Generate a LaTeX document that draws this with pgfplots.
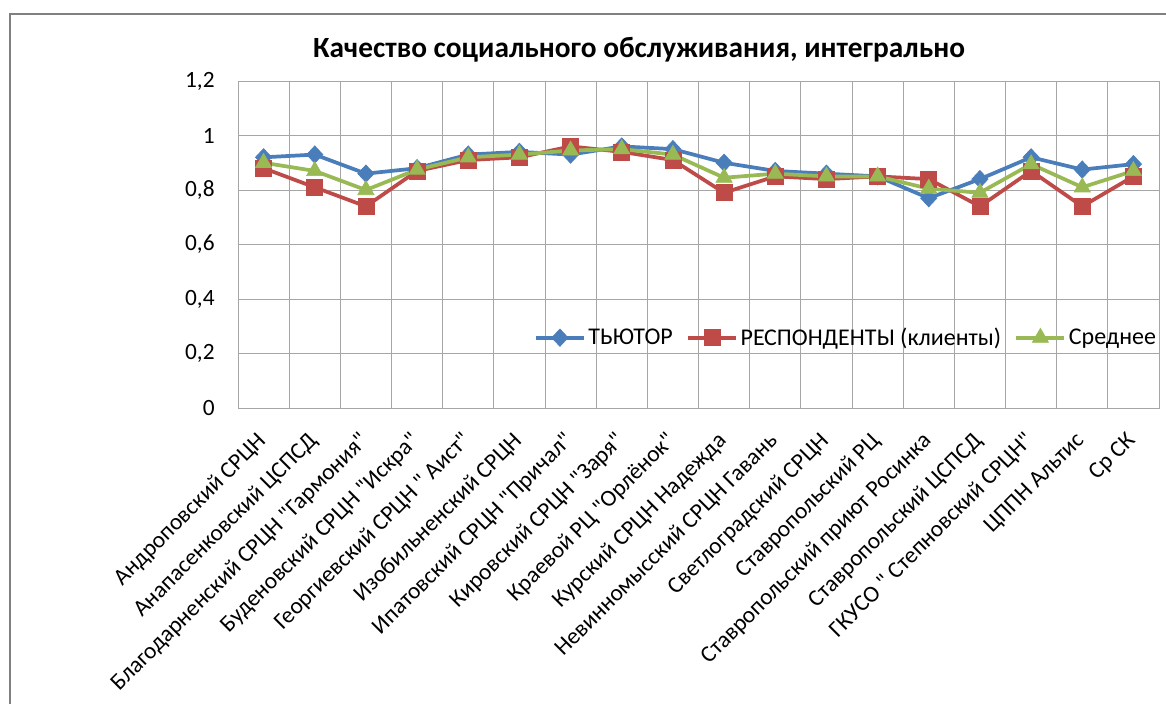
\documentclass[border=0pt]{standalone}
\usepackage{pgfplots}
\pgfplotsset{compat=1.18}
\usepackage{fontspec}
\setmainfont{Carlito}[Ligatures=TeXOff]

\definecolor{tutor}{HTML}{4A7EBB}
\definecolor{resp}{HTML}{BE4B48}
\definecolor{avg}{HTML}{98B954}
\definecolor{gridc}{HTML}{A6A6A6}

\pgfplotstableread{
idx tutor resp avg
1  0.92  0.88 0.90
2  0.93  0.81 0.87
3  0.86  0.74 0.80
4  0.88  0.87 0.875
5  0.93  0.91 0.92
6  0.94  0.92 0.93
7  0.93  0.96 0.945
8  0.96  0.94 0.95
9  0.95  0.91 0.93
10 0.90  0.79 0.845
11 0.87  0.85 0.86
12 0.86  0.84 0.85
13 0.85  0.85 0.85
14 0.77  0.84 0.805
15 0.84  0.74 0.79
16 0.92  0.87 0.895
17 0.875 0.74 0.81
18 0.895 0.85 0.87
}\data

\begin{document}
\begin{tikzpicture}[x=0.75pt,y=0.75pt]
\path[use as bounding box] (0,0) rectangle (1166,-704);
\draw[line width=1.5pt, color=gray] (10,-704) -- (10,-14) -- (1166,-14);
\node[font=\bfseries\fontsize{22}{26}\selectfont] at (639,-50) {Качество социального обслуживания, интегрально};
\coordinate (plotnw) at (238,-81);
\begin{axis}[
 at={(plotnw)}, anchor=north west,
 scale only axis,
 width=690.75pt, height=245.25pt,
 xmin=0.5, xmax=18.5, ymin=0, ymax=1.2,
 xtick={1,...,18},
 xticklabels={Андроповский СРЦН, Анапасенковский ЦСПСД, Благодарненский СРЦН "Гармония", Буденовский СРЦН "Искра", Георгиевский СРЦН " Аист", Изобильненский СРЦН, Ипатовский СРЦН "Причал", Кировский СРЦН "Заря", Краевой РЦ "Орлёнок", Курский СРЦН Надежда, Невинномысский СРЦН Гавань, Светлоградский СРЦН, Ставропольский РЦ, Ставропольский приют Росинка, Ставропольский ЦСПСД, ГКУСО " Степновский СРЦН", ЦППН Альтис, Ср СК},
 minor xtick={1.5,2.5,...,17.5},
 ytick={0,0.2,0.4,0.6,0.8,1,1.2},
 xminorgrids, ymajorgrids,
 major tick length=0, minor tick length=0,
 axis line style={gridc, line width=0.75pt},
 grid style={gridc, line width=0.75pt},
 minor grid style={gridc, line width=0.75pt},
 tick label style={font=\fontsize{17.5}{20}\selectfont},
 /pgf/number format/.cd, use comma, fixed, precision=1, assume math mode=true,
 /pgfplots/.cd,
 yticklabel style={xshift=-14pt},
 xticklabel style={xshift=-6pt, yshift=-14pt, rotate=45, anchor=north east, inner sep=2pt},
 legend style={at={(1,0.215)}, anchor=east, draw=none, fill=none,
  font=\fontsize{18}{21}\selectfont, inner sep=0pt,
  /tikz/every even column/.append style={column sep=8pt}},
 legend columns=3,
 legend image code/.code={\draw[mark repeat=2,mark phase=2] plot coordinates {(0pt,0pt) (18pt,0pt) (36pt,0pt)};},
]
\addplot[color=tutor, line width=2.8pt, mark=diamond*, mark size=6.5pt, mark options={solid, line width=0.5pt, xscale=1.25}] table[x=idx, y=tutor] {\data};
\addplot[color=resp, line width=2.8pt, mark=square*, mark size=6pt, mark options={solid, line width=0.5pt}] table[x=idx, y=resp] {\data};
\addplot[color=avg, line width=2.8pt, mark=triangle*, mark size=7pt, mark options={solid, line width=0.5pt}] table[x=idx, y=avg] {\data};
\legend{ТЬЮТОР, РЕСПОНДЕНТЫ (клиенты), Среднее}
\end{axis}
\end{tikzpicture}
\end{document}
